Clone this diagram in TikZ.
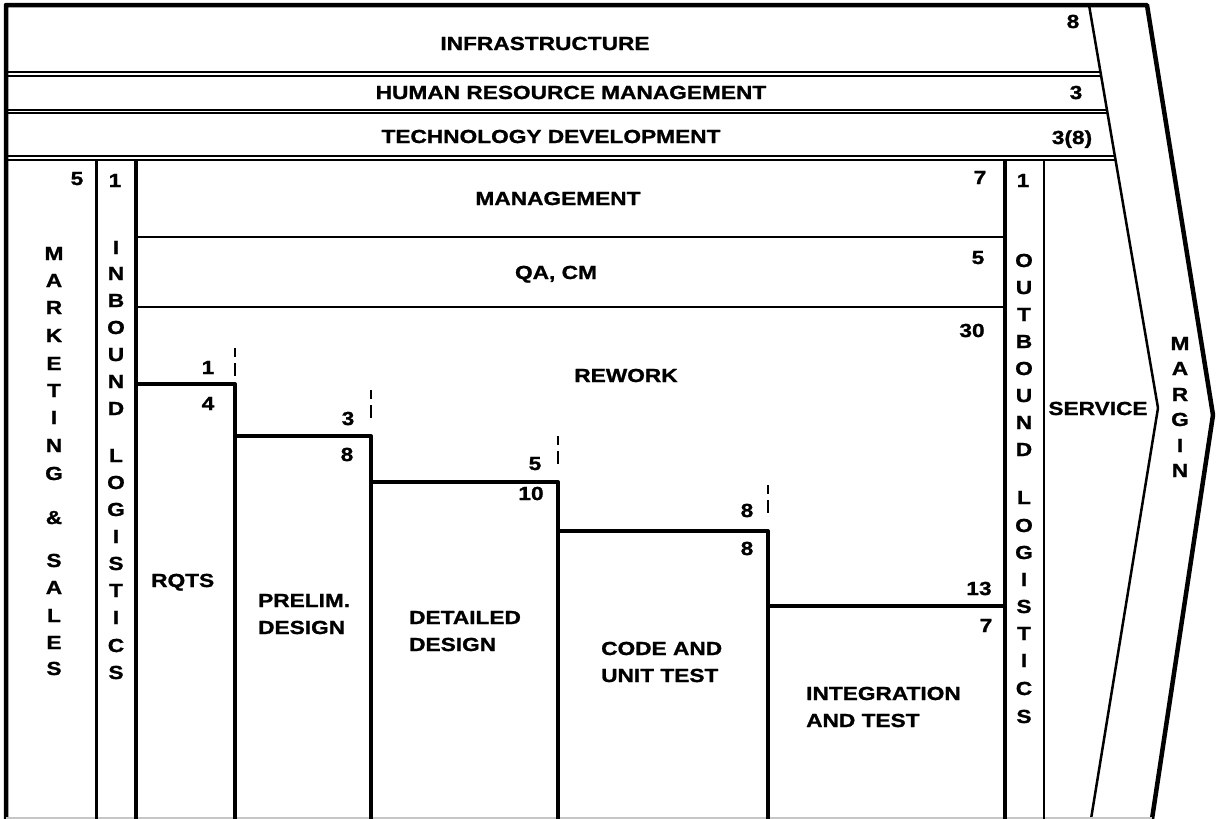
\documentclass[tikz,border=0pt]{standalone}
\usepackage{fontspec}
\newfontfamily\labfont{Liberation Sans}[FakeStretch=1.2, BoldFeatures={FakeBold=1.2}]
\begin{document}
\begin{tikzpicture}[x=1pt,y=-1pt,
  lbl/.style={font=\labfont\bfseries\fontsize{18.9}{22}\selectfont, inner sep=0pt, anchor=base},
  lblw/.style={lbl, anchor=base west},
  frameline/.style={line width=4.5pt, line join=round},
  boxline/.style={line width=2pt},
  stepline/.style={line width=4pt, line join=round},
  tickline/.style={line width=2pt, dash pattern=on 9pt off 6pt on 13pt off 200pt}]

\fill[white] (0,0) rectangle (1216,819);
\useasboundingbox (0,0) rectangle (1216,819);

% outer frame with the margin chevron
\draw[frameline] (6,819) -- (6,5) -- (1147,5) -- (1213,415) -- (1152,819);
% inner edge of the margin chevron (service point)
\draw[line width=2.5pt, line join=round] (1089,5) -- (1158,408) -- (1091,819);
% faint bottom edge
\draw[line width=2pt, gray!45] (6,817.5) -- (1152,817.5);

% support activity bands
\draw[boxline] (6,72) -- (1100.5,72);
\draw[boxline] (6,76) -- (1101.2,76);
\draw[boxline] (6,110) -- (1107,110);
\draw[boxline] (6,113) -- (1107.5,113);
\draw[boxline] (6,156) -- (1114.9,156);
\draw[boxline] (6,160) -- (1115.6,160);

% primary activity columns
\draw[line width=2.5pt] (96.5,160) -- (96.5,819);
\draw[line width=4pt] (136,160) -- (136,819);
\draw[line width=3.5pt] (1005,160) -- (1005,819);
\draw[boxline] (1044,160) -- (1044,819);
\draw[boxline] (136,237) -- (1005,237);
\draw[boxline] (136,307) -- (1005,307);

% development phase steps
\draw[stepline] (136,384) -- (235,384) -- (235,819);
\draw[stepline] (235,436) -- (371,436) -- (371,819);
\draw[stepline] (371,482) -- (558,482) -- (558,819);
\draw[stepline] (558,531) -- (768,531) -- (768,819);
\draw[stepline] (768,606) -- (1005,606) -- (1005,819);

% dashed ticks above the step corners
\draw[tickline] (235,348) -- (235,378);
\draw[tickline] (371,390) -- (371,420);
\draw[tickline] (558,436) -- (558,466);
\draw[tickline] (768,485) -- (768,517);

% band labels
\node[lbl] (infra) at (545,50) {INFRASTRUCTURE};
\node[lbl] (hrm) at (571,99) {HUMAN RESOURCE MANAGEMENT};
\node[lbl] (techdev) at (551,143) {TECHNOLOGY DEVELOPMENT};
\node[lbl] (infraN) at (1073,28) {8};
\node[lbl] (hrmN) at (1076,99) {3};
\node[lbl] (techN) at (1072,144) {3(8)};

% upper boxes of the engineering column
\node[lbl] (mgmt) at (558,205) {MANAGEMENT};
\node[lbl] (qacm) at (556,279) {QA, CM};
\node[lbl] (rework) at (626,382) {REWORK};
\node[lbl] (mgmtN) at (980,184) {7};
\node[lbl] (qaN) at (978,264) {5};
\node[lbl] (reworkN) at (972,337) {30};
\node[lbl] (mktN) at (77,185) {5};
\node[lbl] (inbN) at (115,187) {1};
\node[lbl] (outN) at (1023,187) {1};

% vertical column titles
\foreach \c/\y [count=\i] in {M/253,A/280,R/307,K/335,E/363,T/390,I/417,N/445,G/473,\&/517,S/560,A/587,L/615,E/642,S/668}
  \node[lbl] (mkt\i) at (54,\y+7) {\c};
\foreach \c/\y [count=\i] in {I/247,N/273,B/300,O/327,U/354,N/381,D/408,L/455,O/482,G/509,I/536,S/563,T/590,I/617,C/645,S/672}
  \node[lbl] (inb\i) at (116,\y+7) {\c};
\foreach \c/\y [count=\i] in {O/260,U/287,T/314,B/341,O/368,U/395,N/422,D/449,L/497,O/525,G/552,I/579,S/606,T/633,I/660,C/688,S/716}
  \node[lbl] (out\i) at (1024,\y+7) {\c};
\foreach \c/\y [count=\i] in {M/343,A/368,R/394,G/419,I/445,N/470}
  \node[lbl] (mrg\i) at (1180,\y+7) {\c};
\node[lbl] (service) at (1098,415) {SERVICE};

% phase labels
\node[lblw] (rqts) at (151,587) {RQTS};
\node[lblw] (prelimA) at (258,607) {PRELIM.};
\node[lblw] (prelimB) at (258,634) {DESIGN};
\node[lblw] (detA) at (409,624) {DETAILED};
\node[lblw] (detB) at (409,651) {DESIGN};
\node[lblw] (codeA) at (601,655) {CODE AND};
\node[lblw] (codeB) at (601,682) {UNIT TEST};
\node[lblw] (intA) at (806,700) {INTEGRATION};
\node[lblw] (intB) at (806,727) {AND TEST};

% effort figures at each step
\node[lbl] (rqtsUp) at (208,374) {1};
\node[lbl] (rqtsDn) at (208,410) {4};
\node[lbl] (preUp) at (348,425) {3};
\node[lbl] (preDn) at (347,461) {8};
\node[lbl] (detUp) at (535,470) {5};
\node[lbl] (detDn) at (531,500) {10};
\node[lbl] (codeUp) at (747,517) {8};
\node[lbl] (codeDn) at (747,555) {8};
\node[lbl] (intUp) at (979,595) {13};
\node[lbl] (intDn) at (986,632) {7};

\end{tikzpicture}
\end{document}
